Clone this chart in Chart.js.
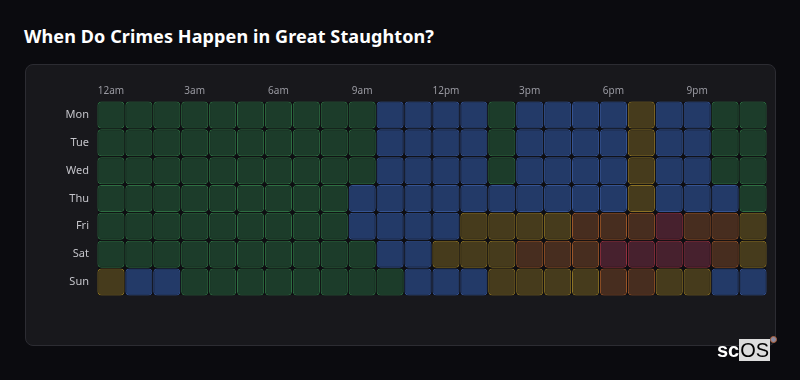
<!DOCTYPE html>
<html>
<head>
<meta charset="utf-8">
<script src="https://cdn.jsdelivr.net/npm/chart.js@4"></script>
<style>
  html, body { margin: 0; padding: 0; background: #0b0b0f; width: 800px; height: 380px; overflow: hidden; }
  #title { position: absolute; left: 24px; top: 24px; color: #ffffff; font-family: "Noto Sans", "Open Sans", sans-serif; font-weight: 700; font-size: 18px; letter-spacing: 0.1px; }
  #card { position: absolute; box-sizing: border-box; left: 25px; top: 64px; width: 751px; height: 282px; background: #18181c; border: 1px solid #2c2c32; border-radius: 8px; }
  #wrap { position: absolute; left: 25px; top: 64px; width: 750px; height: 281px; }
  #logo { position: absolute; left: 717px; top: 339px; font-family: "Liberation Sans", Arial, sans-serif; font-weight: 700; font-size: 20px; line-height: 22px; color: #ffffff; }
  #logo .os { background: #dcdcdc; color: #000; padding: 0 1px; font-weight: 400; }
  #logo .r { position: absolute; left: 53px; top: -3px; width: 5px; height: 5px; border-radius: 50%; background: #8a8aa0; border: 1px solid #b0603a; }
</style>
</head>
<body>
<div id="title">When Do Crimes Happen in Great Staughton?</div>
<div id="card"></div>
<div id="wrap"><canvas id="c" width="750" height="281"></canvas></div>
<div id="logo">sc<span class="os">OS</span><span class="r"></span></div>
<script>
// Categories
const days = ["Mon", "Tue", "Wed", "Thu", "Fri", "Sat", "Sun"];
const hours = ["12am","1am","2am","3am","4am","5am","6am","7am","8am","9am","10am","11am",
               "12pm","1pm","2pm","3pm","4pm","5pm","6pm","7pm","8pm","9pm","10pm","11pm"];
// Crime level per hour (0 = lowest ... 4 = highest)
const mon = [0,0,0,0,0,0,0,0,0,0,1,1,1,1,0,1,1,1,1,2,1,1,0,0];
const tue = [0,0,0,0,0,0,0,0,0,0,1,1,1,1,0,1,1,1,1,2,1,1,0,0];
const wed = [0,0,0,0,0,0,0,0,0,0,1,1,1,1,0,1,1,1,1,2,1,1,0,0];
const thu = [0,0,0,0,0,0,0,0,0,1,1,1,1,1,1,1,1,1,1,2,1,1,1,0];
const fri = [0,0,0,0,0,0,0,0,0,1,1,1,1,2,2,2,2,3,3,3,4,3,3,2];
const sat = [0,0,0,0,0,0,0,0,0,0,1,1,2,2,2,3,3,3,4,4,4,4,3,2];
const sun = [2,1,1,0,0,0,0,0,0,0,0,1,1,1,2,2,2,2,3,3,2,2,1,1];
const levels = [mon, tue, wed, thu, fri, sat, sun];

const levelFill   = ["#1c3c2a", "#233a68", "#463b1c", "#472d1f", "#47212e"];
const levelBorder = ["#2e6e42", "#355392", "#8c7224", "#9a5528", "#93303f"];

const datasets = days.map((d, di) => ({
  label: d,
  data: levels[di].map(() => [di + 0.015, di + 0.985]),
  backgroundColor: levels[di].map(v => levelFill[v]),
  borderColor: levels[di].map(v => levelBorder[v]),
  borderWidth: 1,
  borderRadius: 4,
  borderSkipped: false,
  grouped: false,
  barPercentage: 0.97,
  categoryPercentage: 1
}));

const areaBg = {
  id: 'areaBg',
  beforeDatasetsDraw(chart) {
    const a = chart.chartArea, ctx = chart.ctx;
    ctx.save();
    ctx.fillStyle = '#0e0e12';
    ctx.fillRect(a.left + 1, a.top + 1, a.right - a.left - 2, a.bottom - a.top - 2);
    ctx.restore();
  }
};

new Chart(document.getElementById('c'), {
  type: 'bar',
  data: { labels: hours, datasets },
  plugins: [areaBg],
  options: {
    responsive: false,
    animation: false,
    layout: { padding: { left: 0, right: 8, top: 0, bottom: 49 } },
    plugins: { legend: { display: false }, tooltip: { enabled: false } },
    scales: {
      x: {
        position: 'top',
        grid: { display: false, drawTicks: false },
        border: { display: false },
        afterFit(s) { s.height = 37; },
        ticks: {
          autoSkip: false, maxRotation: 0, padding: 4,
          color: '#9a9aa2',
          font: { family: "'Noto Sans', 'Open Sans', sans-serif", size: 10 },
          callback(v, i) { return i % 3 === 0 ? hours[i] : ''; }
        }
      },
      y: {
        type: 'linear', min: 0, max: 7, reverse: true,
        grid: { display: false, drawTicks: false },
        border: { display: false },
        afterFit(s) { s.width = 72; },
        afterBuildTicks(s) { s.ticks = days.map((d, i) => ({ value: i + 0.5 })); },
        ticks: {
          padding: 8,
          color: '#c4c4ca',
          font: { family: "'Noto Sans', 'Open Sans', sans-serif", size: 11 },
          callback(v) { return days[Math.floor(v)]; }
        }
      }
    }
  }
});
</script>
</body>
</html>
